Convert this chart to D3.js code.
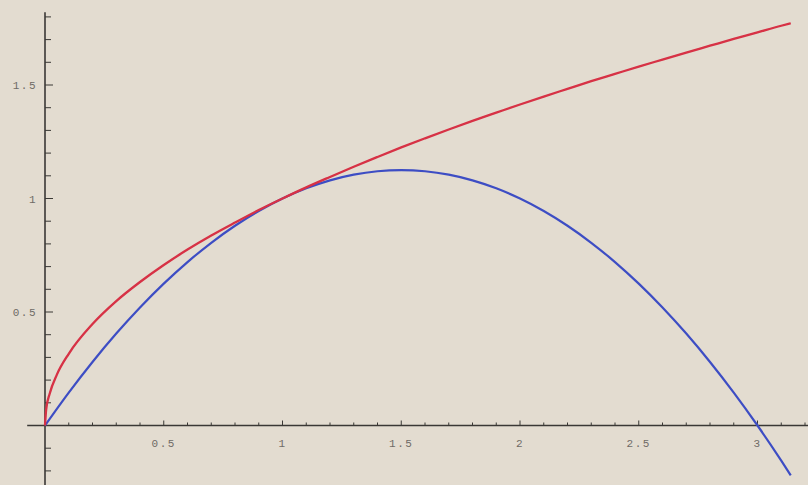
<!DOCTYPE html>
<html><head><meta charset="utf-8">
<script src="https://cdn.jsdelivr.net/npm/d3@7/dist/d3.min.js"></script>
<style>html,body{margin:0;padding:0;background:#e3dcd0;}svg{display:block;}</style>
</head><body>
<svg id="chart" width="808" height="485"></svg>
<script>
// Red curve samples
const redX = [0,0.005,0.02,0.05,0.1,0.2,0.3,0.4,0.5,0.6,0.7,0.8,0.9,1.0,1.1,1.2,1.3,1.4,1.5,1.6,1.7,1.8,1.9,2.0,2.1,2.2,2.3,2.4,2.5,2.6,2.7,2.8,2.9,3.0,3.1,3.14];
const redY = [0,0.071,0.141,0.224,0.316,0.447,0.548,0.632,0.707,0.775,0.837,0.894,0.949,1.0,1.049,1.095,1.140,1.183,1.225,1.265,1.304,1.342,1.378,1.414,1.449,1.483,1.517,1.549,1.581,1.612,1.643,1.673,1.703,1.732,1.761,1.772];
// Blue curve samples
const blueX = [0,0.1,0.2,0.3,0.4,0.5,0.6,0.7,0.8,0.9,1.0,1.1,1.2,1.3,1.4,1.5,1.6,1.7,1.8,1.9,2.0,2.1,2.2,2.3,2.4,2.5,2.6,2.7,2.8,2.9,3.0,3.1,3.14];
const blueY = [0,0.145,0.28,0.405,0.52,0.625,0.72,0.805,0.88,0.945,1.0,1.045,1.08,1.105,1.12,1.125,1.12,1.105,1.08,1.045,1.0,0.945,0.88,0.805,0.72,0.625,0.52,0.405,0.28,0.145,0,-0.155,-0.22];
// Tick labels
const xTickVals = [0.5,1,1.5,2,2.5,3];
const xTickLabels = ["0.5","1","1.5","2","2.5","3"];
const yTickVals = [0.5,1,1.5];
const yTickLabels = ["0.5","1","1.5"];

const W = 808, H = 485;
const svg = d3.select("#chart");
const x = d3.scaleLinear().domain([0, 3]).range([45, 757.5]);
const y = d3.scaleLinear().domain([0, 1.5]).range([425.5, 85]);

svg.append("rect").attr("width", W).attr("height", H).attr("fill", "#e3dcd0");

const defs = svg.append("defs");
defs.append("filter").attr("id","soft").append("feGaussianBlur").attr("stdDeviation",0.6);

const axisColor = "#3a3835";
// x axis line
svg.append("line").attr("x1", x(-0.075)).attr("x2", W).attr("y1", y(0)).attr("y2", y(0))
  .attr("stroke", axisColor).attr("stroke-width", 1.6);
// y axis line
svg.append("line").attr("x1", x(0)).attr("x2", x(0)).attr("y1", y(1.82)).attr("y2", H)
  .attr("stroke", axisColor).attr("stroke-width", 1.6);

// x ticks
const xMinor = d3.range(1, 33).map(i => i / 10);
svg.append("g").selectAll("line").data(xMinor).join("line")
  .attr("x1", d => x(d)).attr("x2", d => x(d))
  .attr("y1", y(0)).attr("y2", d => y(0) - (Math.abs(d*2 - Math.round(d*2)) < 1e-6 ? 5 : 3))
  .attr("stroke", axisColor).attr("stroke-width", 1);
svg.append("g").selectAll("text").data(xTickVals).join("text")
  .attr("x", d => x(d)).attr("y", 447)
  .attr("text-anchor", "middle")
  .attr("font-family", "Liberation Mono, DejaVu Sans Mono, monospace")
  .attr("font-size", 11).attr("letter-spacing", 1.5).attr("fill", "#6f6b66")
  .text((d, i) => xTickLabels[i]);

// y ticks
const yMinor = d3.range(-2, 19).filter(i => i !== 0).map(i => i / 10);
svg.append("g").selectAll("line").data(yMinor).join("line")
  .attr("x1", x(0)).attr("x2", d => x(0) + (Math.abs(d*2 - Math.round(d*2)) < 1e-6 ? 8 : 6))
  .attr("y1", d => y(d)).attr("y2", d => y(d))
  .attr("stroke", axisColor).attr("stroke-width", 1);
svg.append("g").selectAll("text").data(yTickVals).join("text")
  .attr("x", 37).attr("y", d => y(d) + 4)
  .attr("text-anchor", "end")
  .attr("font-family", "Liberation Mono, DejaVu Sans Mono, monospace")
  .attr("font-size", 11).attr("letter-spacing", 1.5).attr("fill", "#6f6b66")
  .text((d, i) => yTickLabels[i]);

const line = d3.line().x(d => x(d[0])).y(d => y(d[1])).curve(d3.curveMonotoneX);

svg.append("path").datum(blueX.map((v, i) => [v, blueY[i]]))
  .attr("d", line).attr("fill", "none").attr("stroke", "#3e4ec4")
  .attr("stroke-width", 2.2).attr("filter", "url(#soft)");
svg.append("path").datum(redX.map((v, i) => [v, redY[i]]))
  .attr("d", line).attr("fill", "none").attr("stroke", "#d73045")
  .attr("stroke-width", 2.3).attr("filter", "url(#soft)");
</script>
</body></html>
